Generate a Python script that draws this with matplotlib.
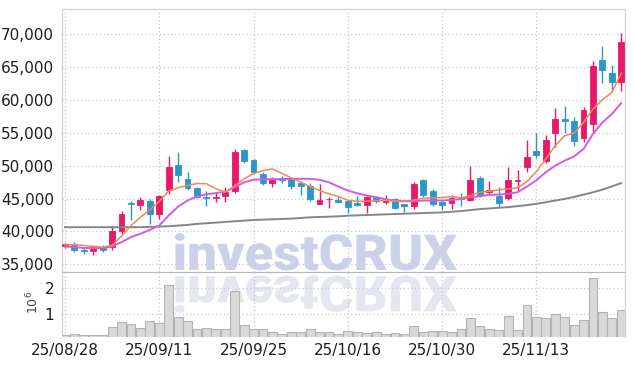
import numpy as np
import pandas as pd
import matplotlib
matplotlib.use('Agg')
import matplotlib.pyplot as plt
from matplotlib.textpath import TextPath
from matplotlib.patches import PathPatch
from matplotlib.font_manager import FontProperties
from matplotlib.transforms import Affine2D
from matplotlib.ticker import FuncFormatter

plt.rcParams['font.family'] = ['Liberation Sans Narrow', 'DejaVu Sans']

# trading days (KRX, Chuseok holidays removed)
holidays = ['2025-10-03', '2025-10-06', '2025-10-07', '2025-10-08', '2025-10-09']
dates = pd.bdate_range('2025-08-28', '2025-11-26', freq='C', holidays=holidays)
date_labels = list(dates.strftime('%y/%m/%d'))

opens = [37850, 38150, 37200, 37050, 37700, 37600, 40050, 44400, 44050, 44700,
         42600, 46300, 50050, 48000, 46650, 45250, 45150, 45450, 46100, 52400,
         50850, 48750, 47300, 48150, 48000, 47300, 46850, 44200, 44900, 44850,
         44600, 44350, 43950, 45200, 44550, 44950, 44100, 43850, 47750, 46200,
         44450, 44300, 45200, 44800, 48100, 45950, 45450, 45050, 47700, 49750,
         52150, 50750, 54900, 57150, 56800, 54150, 56400, 66050, 64050, 62750]
highs = [38300, 38400, 37500, 38000, 38000, 40850, 43100, 44600, 45300, 44900,
         45600, 51400, 52100, 49000, 46800, 46100, 45800, 46800, 52550, 52600,
         51000, 49000, 48250, 48500, 48350, 47700, 47300, 47250, 45300, 45400,
         44700, 45450, 45450, 45400, 45600, 45150, 44200, 47500, 48000, 46450,
         44600, 45600, 45800, 49900, 48500, 47600, 46700, 49750, 49350, 53900,
         55000, 54650, 58700, 59000, 57350, 58850, 65900, 68100, 65300, 70100]
lows = [37500, 36950, 36650, 36400, 36950, 37150, 39600, 41800, 43200, 41200,
        41900, 45700, 47450, 46300, 45050, 43800, 44450, 44450, 45900, 50400,
        48700, 47100, 46700, 47300, 46400, 45600, 44700, 44200, 43600, 44300,
        42800, 43800, 42850, 44300, 44100, 43450, 42950, 43350, 45300, 43850,
        43200, 43450, 43800, 44700, 45200, 45600, 43700, 44800, 46100, 49000,
        51100, 50400, 52800, 54950, 53050, 53550, 55050, 62600, 61350, 61350]
closes = [38150, 37250, 37100, 37600, 37250, 40050, 42600, 44200, 44850, 42600,
          45450, 49850, 48550, 46650, 45200, 45100, 45250, 46050, 52100, 50750,
          49000, 47300, 47750, 47850, 46950, 46850, 44950, 44800, 45000, 44450,
          43700, 43950, 45200, 44600, 44950, 43600, 43850, 47250, 45600, 44100,
          43950, 45050, 44950, 47850, 45600, 46350, 44300, 47750, 47750, 51350,
          51550, 53950, 57050, 56800, 53800, 58500, 65150, 64500, 62750, 68800]

ma_short = [38030, 37980, 37880, 37730, 37620, 37900, 39300, 40900, 42170, 43290,
            44600, 46150, 46650, 47000, 47280, 47250, 46500, 45960, 46970, 47990,
            48790, 49250, 49500, 48840, 48140, 47470, 46820, 46220, 45710, 45300,
            44750, 44600, 44600, 44700, 44700, 44600, 44550, 44800, 45050, 45100,
            45150, 45300, 45100, 45460, 45960, 46110, 46320, 46470, 46620, 47580,
            49100, 51020, 53030, 54550, 54950, 56560, 58590, 60000, 61110, 64040]
ma_mid = [37730, 37620, 37500, 37470, 37470, 37730, 38380, 39140, 39650, 40250,
          40900, 42430, 43790, 44700, 45330, 45660, 45830, 46060, 46720, 47470,
          47860, 47930, 47950, 47950, 47980, 48000, 48000, 47850, 47470, 46820,
          46220, 45800, 45460, 45200, 44900, 44700, 44600, 44600, 44700, 44700,
          44700, 44800, 44900, 45200, 45350, 45560, 45610, 45710, 45960, 46820,
          47800, 48990, 50000, 50760, 51410, 52530, 54800, 56560, 57830, 59500]
ma_long = [40650, 40650, 40650, 40650, 40650, 40650, 40650, 40650, 40650, 40700,
           40750, 40800, 40900, 41000, 41150, 41250, 41350, 41450, 41550, 41650,
           41750, 41800, 41850, 41900, 41950, 42050, 42150, 42200, 42250, 42300,
           42400, 42450, 42500, 42550, 42600, 42650, 42700, 42750, 42800, 42850,
           42900, 43000, 43100, 43250, 43400, 43500, 43600, 43700, 43850, 44000,
           44200, 44450, 44700, 44950, 45250, 45600, 45950, 46350, 46850, 47350]

volumes = [180000, 220000, 170000, 170000, 180000, 480000, 680000, 600000, 440000, 720000,
           640000, 2120000, 870000, 720000, 400000, 440000, 420000, 420000, 1910000, 570000,
           420000, 400000, 290000, 220000, 310000, 290000, 400000, 290000, 290000, 220000,
           350000, 290000, 250000, 290000, 210000, 250000, 220000, 550000, 310000, 350000,
           330000, 290000, 400000, 830000, 520000, 400000, 360000, 910000, 360000, 1340000,
           880000, 830000, 990000, 870000, 560000, 750000, 2390000, 1060000, 830000, 1140000]

UP = '#e8196b'
DOWN = '#2e95c8'

x = np.arange(len(dates))
o = np.array(opens)
c = np.array(closes)
colors = [UP if cc >= oo else DOWN for oo, cc in zip(o, c)]

fig = plt.figure(figsize=(6.34, 3.66), dpi=100)
ax = fig.add_axes([0.0973, 0.2560, 0.8885, 0.7186])
axv = fig.add_axes([0.0973, 0.0792, 0.8885, 0.1768], sharex=ax)
axv.set_facecolor('none')

# watermark with reflection
fp = FontProperties(family=['Roboto', 'DejaVu Sans'], weight='black')
tp = TextPath((0, 0), 'investCRUX', size=1, prop=fp)
ext = tp.get_extents()
sx = 2.82 / ext.width
sy = 0.37 / ext.y1
tr_main = Affine2D().translate(-ext.x0, 0).scale(sx, sy).translate(1.75, 0.96) + fig.dpi_scale_trans
tr_refl = Affine2D().translate(-ext.x0, 0).scale(sx, -sy).translate(1.75, 0.90) + fig.dpi_scale_trans
ax.add_patch(PathPatch(tp, transform=tr_main, facecolor='#cbd1e8', edgecolor='none',
                       zorder=1.5, clip_on=False))
ax.add_patch(PathPatch(tp, transform=tr_refl, facecolor='#e4e6f0', edgecolor='none',
                       zorder=1.5, clip_on=False))

# candles
ax.vlines(x, lows, highs, colors=colors, linewidth=1.0, zorder=3)
ax.bar(x, np.abs(c - o), bottom=np.minimum(o, c), width=0.62, color=colors,
       edgecolor=colors, linewidth=0.6, zorder=3)

# moving averages
ax.plot(x, ma_long, color='#858585', linewidth=1.4, zorder=4)
ax.plot(x, ma_mid, color='#d35ae6', linewidth=1.4, zorder=4)
ax.plot(x, ma_short, color='#ef8a50', linewidth=1.1, zorder=4)

# volume
axv.bar(x, volumes, width=0.94, color='#d9d9d9', edgecolor='#b3b3b3', linewidth=0.8, zorder=3)

ax.set_xlim(-0.35, 59.4)
ax.set_ylim(33800, 73750)
axv.set_ylim(105000, 2620000)

ax.set_yticks(range(35000, 70001, 5000))
ax.yaxis.set_major_formatter(FuncFormatter(lambda v, p: f'{int(v):,}'))
axv.set_yticks([1000000, 2000000])
axv.yaxis.set_major_formatter(FuncFormatter(lambda v, p: f'{int(v / 1e6)}'))

ticks = list(range(0, len(dates), 10))
axv.set_xticks(ticks)
axv.set_xticklabels([date_labels[t] for t in ticks])
ax.tick_params(axis='x', labelbottom=False)

for a in (ax, axv):
    a.set_axisbelow(True)
    a.grid(axis='y', linestyle=(0, (1, 2)), color='#c3c9e2', linewidth=0.9)
    a.grid(axis='x', linestyle=(0, (1, 2)), color='#c4c4cc', linewidth=0.9)
    a.tick_params(length=0, labelsize=11, labelcolor='#1e1e1e')
    for s in a.spines.values():
        s.set_color('#d2d2d8')
        s.set_linewidth(0.9)
ax.tick_params(axis='y', pad=5.5)
axv.tick_params(axis='y', pad=5.5)
axv.tick_params(axis='x', pad=4)
ax.spines['bottom'].set_color('#b8b8b8')
axv.spines['top'].set_visible(False)
axv.spines['bottom'].set_visible(False)

fig.text(33 / 634, 1 - 302 / 366, r'$10^6$', rotation=90, ha='center', va='center',
         fontsize=9, color='#444444')

fig.savefig('out.png', dpi=100)
